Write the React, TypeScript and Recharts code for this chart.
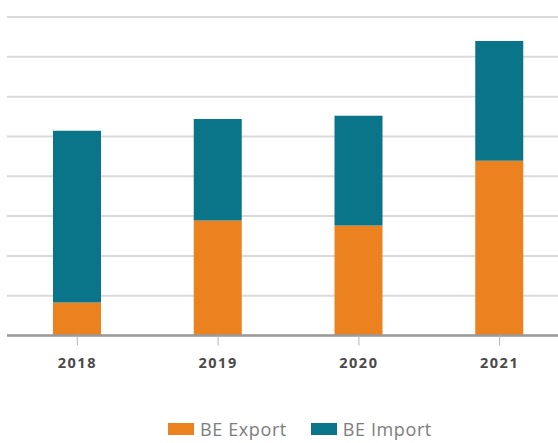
import React from "react";
import { BarChart, Bar, XAxis, YAxis, CartesianGrid, Legend } from "recharts";

const years = ["2018", "2019", "2020", "2021"];
const beExport = [0.83, 2.89, 2.76, 4.39];
const beImport = [4.31, 2.55, 2.76, 3.01];
const yTicks = [0, 1, 2, 3, 4, 5, 6, 7, 8];

const ORANGE = "#EC8120";
const TEAL = "#0A7488";

const data = years.map((y, i) => ({ year: y, export: beExport[i], import: beImport[i] }));

const LegendContent = (props: any) => {
  const payload = props.payload || [];
  return (
    <div style={{ display: "flex", justifyContent: "center", alignItems: "center", gap: 24 }}>
      {payload.map((p: any) => (
        <div key={p.value} style={{ display: "flex", alignItems: "center" }}>
          <span style={{ display: "inline-block", width: 26, height: 12, background: p.color, marginRight: 6 }} />
          <span style={{ fontFamily: "'Open Sans', sans-serif", fontSize: 18, letterSpacing: 0.6, color: "#7d7d7d" }}>{p.value}</span>
        </div>
      ))}
    </div>
  );
};

export default function App() {
  return (
    <div style={{ position: "absolute", left: 0, top: 0, width: 558, height: 443, overflow: "hidden", background: "#fff" }}>
      <BarChart
        width={600}
        height={443}
        data={data}
        margin={{ top: 17, right: 30, left: 7, bottom: 67.5 }}
        barSize={48}
      >
        <CartesianGrid vertical={false} stroke="#dadada" strokeWidth={2} />
        <YAxis hide domain={[0, 8]} ticks={yTicks} />
        <XAxis
          dataKey="year"
          height={40}
          axisLine={{ stroke: "#9a9a9a", strokeWidth: 2.5 }}
          tickLine={{ stroke: "#b5b5b5", strokeWidth: 1 }}
          tickSize={10}
          tickMargin={12}
          tick={{ fill: "#4a4a4a", fontSize: 14.5, fontWeight: 700, letterSpacing: 1.5, fontFamily: "'Open Sans', sans-serif" }}
        />
        <Bar dataKey="export" name="BE Export" stackId="a" fill={ORANGE} isAnimationActive={false} />
        <Bar dataKey="import" name="BE Import" stackId="a" fill={TEAL} isAnimationActive={false} />
        <Legend
          verticalAlign="middle"
          align="center"
          layout="horizontal"
          content={<LegendContent />}
          wrapperStyle={{ top: 417, left: 0, width: 600 }}
        />
      </BarChart>
    </div>
  );
}
